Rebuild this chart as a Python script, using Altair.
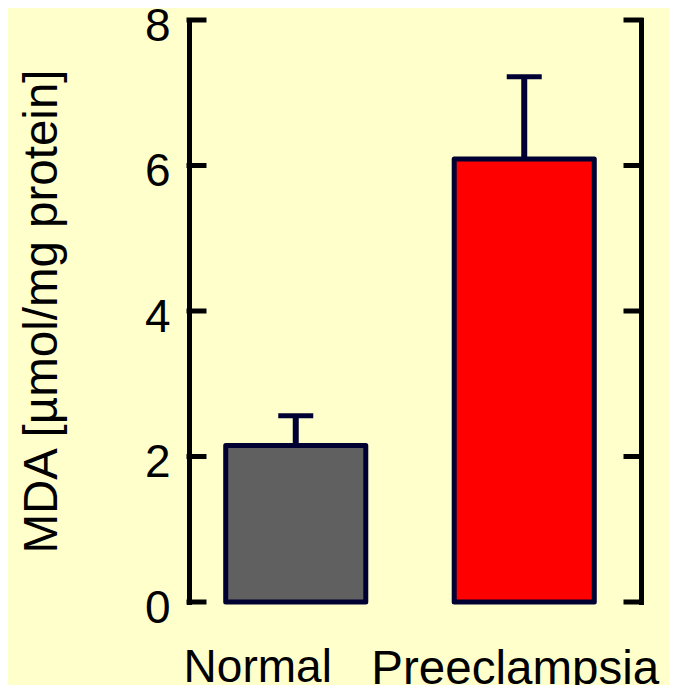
import altair as alt
import pandas as pd

groups = ["Normal", "Preeclampsia"]
means = [2.15, 6.09]
errors = [0.41, 1.13]
fills = ["#606060", "#FF0000"]
tick_values = [0, 2, 4, 6, 8]

df = pd.DataFrame({"group": groups, "mean": means, "err": errors, "fill": fills})
df["upper"] = df["mean"] + df["err"]
ticks_df = pd.DataFrame({"v": tick_values})

W, H = 452, 582
FONT = "Liberation Sans"
INK = "#000033"

yscale = alt.Scale(domain=[0, 8], nice=False, zero=True)
xscale = alt.Scale(domain=groups, paddingInner=0.387, paddingOuter=0.1826, align=0.44)

x_axis = alt.Axis(
    title=None, domain=False, ticks=False, tickSize=0, labelAngle=0,
    labelFont=FONT, labelFontSize={"condition": {"test": "datum.value === 'Normal'", "value": 46}, "value": 47.5},
    labelColor="black", labelPadding=43,
    labelLimit=600, labelOverlap=False,
    labelOffset={"condition": {"test": "datum.value === 'Normal'", "value": -38}, "value": -9},
)
x_enc = alt.X("group:N", scale=xscale, sort=groups, axis=x_axis)

left_axis = alt.Axis(
    title="MDA [µmol/mg protein]", titleFont=FONT, titleFontSize=47.5,
    titleFontWeight="normal", titleColor="black", titlePadding=78,
    values=tick_values, format="d", labelFont=FONT, labelFontSize=46,
    labelColor="black", labelPadding=19, labelOffset=6,
    ticks=False, tickSize=0, grid=False,
    domainColor="black", domainWidth=5, domainCap="square",
)
right_axis = alt.Axis(
    orient="right", title=None, labels=False, ticks=False, tickSize=0, grid=False,
    domainColor="black", domainWidth=5, domainCap="square",
)

err_rule = alt.Chart(df).mark_rule(color=INK, strokeWidth=6, opacity=1).encode(
    x=x_enc, y=alt.Y("mean:Q", scale=yscale, axis=left_axis), y2="upper:Q"
)
bars = alt.Chart(df).mark_bar(stroke=INK, strokeWidth=5, strokeJoin="round", opacity=1).encode(
    x=x_enc, y=alt.Y("mean:Q", scale=yscale, axis=left_axis),
    color=alt.Color("fill:N", scale=None),
)
caps = alt.Chart(df).mark_tick(color=INK, thickness=5, size=35, orient="horizontal", opacity=1).encode(
    x=x_enc, y=alt.Y("upper:Q", scale=yscale, axis=left_axis)
)
lticks = alt.Chart(ticks_df).mark_rule(color="black", strokeWidth=5, strokeCap="square").encode(
    y=alt.Y("v:Q", scale=yscale, axis=left_axis), x=alt.value(0), x2=alt.value(15)
)
left = alt.layer(err_rule, bars, caps, lticks)

rticks = alt.Chart(ticks_df).mark_rule(color="black", strokeWidth=5, strokeCap="square").encode(
    y=alt.Y("v:Q", scale=yscale, axis=right_axis), x=alt.value(W - 15), x2=alt.value(W)
)

chart = (
    alt.layer(left, rticks)
    .resolve_scale(y="independent")
    .properties(
        width=W, height=H,
        autosize=alt.AutoSizeParams(type="none"),
        padding={"left": 181, "top": 12, "right": 28, "bottom": 83},
        background="#FFFFCC",
    )
    .configure_view(stroke=None)
)

chart.save("out.html", embed_options={"renderer": "svg", "actions": False})
